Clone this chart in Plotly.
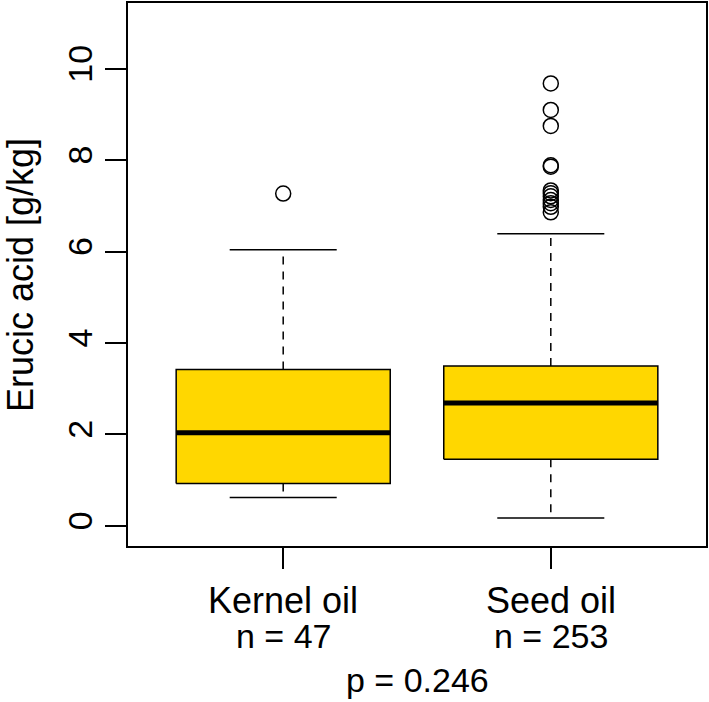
import plotly.graph_objects as go

# group summary stats
groups = ["Kernel oil", "Seed oil"]
n_obs = [47, 253]
positions = [1, 2]
lower_whisker = [0.62, 0.17]
q1 = [0.93, 1.46]
median = [2.04, 2.69]
q3 = [3.42, 3.50]
upper_whisker = [6.04, 6.39]
outliers = [
    [7.27],
    [9.68, 9.10, 8.75, 7.89, 7.86, 7.34, 7.28, 7.21, 7.13, 7.06, 6.98, 6.86],
]
p_value = 0.246

y_ticks = [0, 2, 4, 6, 8, 10]

FONT = "Liberation Sans, Arial, sans-serif"
BOX_FILL = "#FFD700"
HALF_BOX = 0.4
HALF_CAP = 0.2

fig = go.Figure()

for i, x in enumerate(positions):
    # box body
    fig.add_trace(go.Scatter(
        x=[x - HALF_BOX, x + HALF_BOX, x + HALF_BOX, x - HALF_BOX, x - HALF_BOX],
        y=[q1[i], q1[i], q3[i], q3[i], q1[i]],
        mode="lines", fill="toself", fillcolor=BOX_FILL,
        line=dict(color="black", width=1.5), hoverinfo="skip"))
    # median
    fig.add_trace(go.Scatter(
        x=[x - HALF_BOX, x + HALF_BOX], y=[median[i], median[i]],
        mode="lines", line=dict(color="black", width=5), hoverinfo="skip"))
    # whiskers (dashed)
    fig.add_trace(go.Scatter(
        x=[x, x, None, x, x],
        y=[q3[i], upper_whisker[i], None, q1[i], lower_whisker[i]],
        mode="lines", line=dict(color="black", width=1.5, dash="8px,7px"),
        hoverinfo="skip"))
    # whisker caps
    fig.add_trace(go.Scatter(
        x=[x - HALF_CAP, x + HALF_CAP, None, x - HALF_CAP, x + HALF_CAP],
        y=[upper_whisker[i], upper_whisker[i], None, lower_whisker[i], lower_whisker[i]],
        mode="lines", line=dict(color="black", width=1.5), hoverinfo="skip"))
    # outliers
    fig.add_trace(go.Scatter(
        x=[x] * len(outliers[i]), y=outliers[i], mode="markers",
        marker=dict(symbol="circle-open", size=15, color="black",
                    line=dict(width=1.5, color="black"))))

# group labels under the x axis
for i, x in enumerate(positions):
    fig.add_annotation(x=x, xref="x", y=-0.101, yref="paper", text=groups[i],
                       showarrow=False, yanchor="middle",
                       font=dict(family=FONT, size=36, color="black"))
    fig.add_annotation(x=x, xref="x", y=-0.165, yref="paper", text=f"n = {n_obs[i]}",
                       showarrow=False, yanchor="middle",
                       font=dict(family=FONT, size=34, color="black"))

fig.add_annotation(x=0.5, xref="paper", y=-0.246, yref="paper", text=f"p = {p_value}",
                   showarrow=False, yanchor="middle",
                   font=dict(family=FONT, size=34, color="black"))

fig.add_annotation(x=-0.186, xref="paper", y=0.5, yref="paper", text="Erucic acid [g/kg]",
                   showarrow=False, textangle=-90, xanchor="center", yanchor="middle",
                   font=dict(family=FONT, size=36, color="black"))

fig.update_layout(
    width=709, height=702,
    margin=dict(l=128, r=2, t=1, b=156),
    paper_bgcolor="white", plot_bgcolor="white",
    showlegend=False,
    font=dict(family=FONT, color="black"),
    xaxis=dict(range=[0.42, 2.58], tickvals=positions, ticks="outside", ticklen=21,
               tickwidth=1.5, tickcolor="black", showticklabels=False,
               showgrid=False, zeroline=False, showline=True, linecolor="black",
               linewidth=1.5, mirror=True),
    yaxis=dict(range=[-0.44, 11.44], tickvals=y_ticks, ticks="outside", ticklen=21,
               tickwidth=1.5, tickcolor="black", tickangle=-90,
               tickfont=dict(family=FONT, size=34, color="black"),
               showgrid=False, zeroline=False, showline=True, linecolor="black",
               linewidth=1.5, mirror=True),
)

fig.write_html("out.html", config={"displayModeBar": False},
               post_script="document.body.style.margin='0';")
